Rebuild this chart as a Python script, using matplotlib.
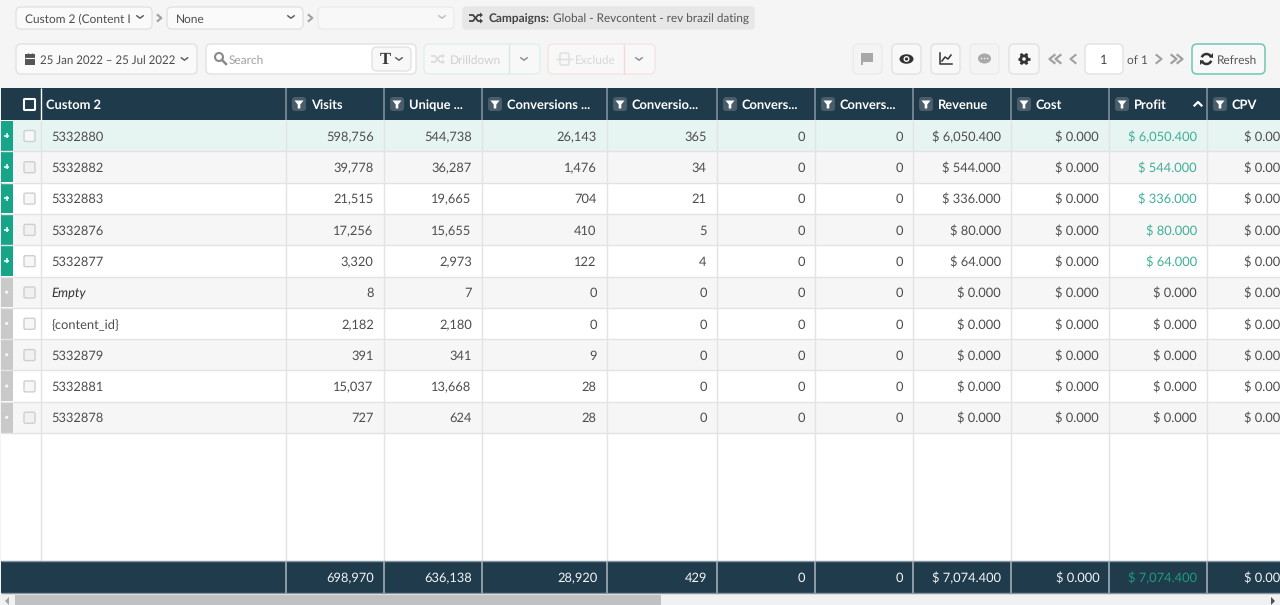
import math
import matplotlib
matplotlib.use("Agg")
import matplotlib.pyplot as plt
from matplotlib.patches import FancyBboxPatch, Rectangle, Polygon, Circle, Ellipse, Arc

plt.rcParams['font.family'] = ['Lato', 'Open Sans', 'DejaVu Sans']
plt.rcParams['text.hinting'] = 'no_hinting'

# ---- data ----
headers = ["Custom 2", "Visits", "Unique ...", "Conversions ...", "Conversio...", "Convers...",
           "Convers...", "Revenue", "Cost", "Profit", "CPV"]
names = ["5332880", "5332882", "5332883", "5332876", "5332877", "Empty", "{content_id}",
         "5332879", "5332881", "5332878"]
visits = ["598,756", "39,778", "21,515", "17,256", "3,320", "8", "2,182", "391", "15,037", "727"]
unique = ["544,738", "36,287", "19,665", "15,655", "2,973", "7", "2,180", "341", "13,668", "624"]
conv_a = ["26,143", "1,476", "704", "410", "122", "0", "0", "9", "28", "28"]
conv_b = ["365", "34", "21", "5", "4", "0", "0", "0", "0", "0"]
conv_c = ["0"] * 10
conv_d = ["0"] * 10
revenue = ["$ 6,050.400", "$ 544.000", "$ 336.000", "$ 80.000", "$ 64.000",
           "$ 0.000", "$ 0.000", "$ 0.000", "$ 0.000", "$ 0.000"]
cost = ["$ 0.000"] * 10
profit = list(revenue)
cpv = ["$ 0.000"] * 10
totals = ["698,970", "636,138", "28,920", "429", "0", "0", "$ 7,074.400", "$ 0.000", "$ 7,074.400", "$ 0.000"]
expandable = [True] * 5 + [False] * 5
value_columns = [visits, unique, conv_a, conv_b, conv_c, conv_d, revenue, cost, profit, cpv]

# ---- layout ----
col_edges = [41, 286, 384, 482, 607, 717, 815, 913, 1011, 1109, 1207, 1297.5]
row_top, row_h = 120, 31.3
foot_top, foot_bot = 561, 593
HEAD, FOOT = "#1e3a4b", "#203b4b"
TXT, GREEN_T, GREEN = "#4d4d4d", "#3fb097", "#17a589"
FS = 9.25
TS = 8.6

fig = plt.figure(figsize=(12.8, 6.05), dpi=100, facecolor="#f5f5f5")
ax = fig.add_axes([0, 0, 1, 1])
ax.set_xlim(0, 1280)
ax.set_ylim(605, 0)
ax.axis("off")


def rect(x0, y0, x1, y1, fc, z=1):
    ax.add_patch(Rectangle((x0, y0), x1 - x0, y1 - y0, fc=fc, ec="none", zorder=z))


def vline(x, y0, y1, c, lw=1.0, z=3):
    ax.plot([x, x], [y0, y1], color=c, lw=lw, zorder=z, solid_capstyle="butt")


def hline(x0, x1, y, c, lw=1.0, z=3):
    ax.plot([x0, x1], [y, y], color=c, lw=lw, zorder=z, solid_capstyle="butt")


def box(x0, y0, x1, y1, fc="#f8f8f8", ec="#e2e2e2", r=5, lw=1.0, z=4):
    ax.add_patch(FancyBboxPatch((x0, y0), x1 - x0, y1 - y0, boxstyle=f"round,pad=0,rounding_size={r}",
                                fc=fc, ec=ec, lw=lw, zorder=z))


def txt(x, y, s, c=TXT, ha="left", fs=FS, z=6, **kw):
    # y is the visual middle of the digits; a whole-pixel baseline keeps a row's texts level
    ax.text(x, round(y + 0.55 * fs), s, color=c, ha=ha, va="baseline", fontsize=fs, zorder=z, clip_on=True, **kw)


def chev_down(x, y, c="#555555", w=3.2, h=2.4, lw=1.0):
    ax.plot([x - w, x, x + w], [y - h / 2, y + h / 2, y - h / 2], color=c, lw=lw, zorder=7)


def chev_side(x, y, d=1, c="#a0a0a0", w=2.5, h=4, lw=1.5):
    ax.plot([x - d * w, x + d * w, x - d * w], [y - h, y, y + h], color=c, lw=lw, zorder=7)


def shuffle(x, y, c):
    ax.plot([x - 6, x - 3, x + 2, x + 5], [y - 3, y - 3, y + 3, y + 3], color=c, lw=1.3, zorder=7)
    ax.plot([x - 6, x - 3, x + 2, x + 5], [y + 3, y + 3, y - 3, y - 3], color=c, lw=1.3, zorder=7)
    for yy in (y - 3, y + 3):
        ax.add_patch(Polygon([[x + 4, yy - 2.5], [x + 7, yy], [x + 4, yy + 2.5]], fc=c, ec="none", zorder=7))


# ---- top toolbar ----
box(16, 7, 152, 29, "#fafafa")
txt(25, 18, "Custom 2 (Content I", fs=TS)
chev_down(140, 17)
chev_side(159.5, 18, w=1.8, h=3)
box(167, 7, 303, 29, "#fafafa")
txt(176, 18, "None", fs=TS)
chev_down(291, 17)
chev_side(310.5, 18, w=1.8, h=3)
box(318, 7, 454, 29, "#f8f8f8", "#ececec")
chev_down(442, 17, c="#bbbbbb")
box(463, 7, 754, 29, "#e7e7e7", "#e7e7e7", r=3)
shuffle(476, 18, "#444444")
txt(489, 18, "Campaigns:", c="#444444", fs=TS, weight="bold")
txt(553, 18, "Global - Revcontent - rev brazil dating", c="#555555", fs=8.45)

box(16, 44, 197, 74, "#fafafa")
rect(25, 54, 35, 65, "#555555", 7)
hline(25, 35, 57.5, "#fafafa", 0.8, 8)
for xx in (28, 32):
    vline(xx, 52.5, 55, "#555555", 1.0, 8)
txt(40, 59, "25 Jan 2022 – 25 Jul 2022", fs=8.3)
chev_down(184.5, 59)
box(206, 44, 416, 74, "#ffffff")
ax.add_patch(Circle((219, 57), 4, fc="none", ec="#8a8a8a", lw=1.5, zorder=7))
ax.plot([222, 226], [60, 64], color="#8a8a8a", lw=1.8, zorder=7)
txt(229, 59, "Search", c="#a0a0a0", fs=TS)
box(372, 47, 411, 71, "#f8f8f8")
ax.text(385, 64, "T", color="#333333", fontsize=12, family="Liberation Serif", weight="bold",
        ha="center", va="baseline", zorder=7)
chev_down(399, 59)

box(424, 44, 540, 74, "#f8f8f8", "#dff0eb")
vline(508.5, 44, 74, "#d3ebe4", z=5)
shuffle(438, 59, "#dcdcdc")
txt(450, 59, "Drilldown", c="#d0d0d0", fs=TS)
chev_down(524, 59, c="#888888")
box(548, 44, 655, 74, "#f8f8f8", "#f5e3e3")
vline(623.5, 44, 74, "#f3d9d9", z=5)
box(560, 53, 569, 65, "none", "#dedede", r=1.5, lw=1.0, z=7)
hline(556, 573, 59, "#dedede", 1.0, 8)
txt(575, 59, "Exclude", c="#d8d8d8", fs=TS)
chev_down(639, 59, c="#888888")

# icon buttons
box(853, 44, 882, 74, "#f4f4f4", "#ebebeb")
ax.add_patch(Polygon([[861, 53], [873, 53], [873, 62], [863, 62], [863, 65], [861, 65]], fc="#a8a8a8", ec="none", zorder=7))
box(892, 44, 921, 74, "#f8f8f8")
ax.add_patch(Ellipse((906.5, 59), 14, 9.5, fc="#333333", ec="none", zorder=7))
ax.add_patch(Circle((906.5, 59), 3, fc="#f8f8f8", ec="none", zorder=8))
ax.add_patch(Circle((906.5, 59), 1.6, fc="#333333", ec="none", zorder=9))
box(931, 44, 960, 74, "#f8f8f8")
ax.plot([940, 940, 952], [53, 64, 64], color="#333333", lw=1.1, zorder=7)
ax.plot([942, 945, 948, 951], [61, 57, 59, 55], color="#333333", lw=1.1, zorder=7)
box(970, 44, 999, 74, "#f4f4f4", "#ebebeb")
ax.add_patch(Ellipse((984.5, 58.5), 13, 10, fc="#a8a8a8", ec="none", zorder=7))
for dx in (-3, 0, 3):
    ax.add_patch(Circle((984.5 + dx, 58.5), 0.8, fc="#f4f4f4", ec="none", zorder=8))
box(1009, 44, 1039, 74, "#f8f8f8")
ax.add_patch(Circle((1024, 59), 4.6, fc="#333333", ec="none", zorder=7))
for a in (0, 60, 120):
    dx, dy = 6.2 * math.cos(math.radians(a)), 6.2 * math.sin(math.radians(a))
    ax.plot([1024 - dx, 1024 + dx], [59 - dy, 59 + dy], color="#333333", lw=2.0, zorder=7, solid_capstyle="butt")
ax.add_patch(Circle((1024, 59), 1.8, fc="#f8f8f8", ec="none", zorder=8))
for xx in (1052, 1058):
    chev_side(xx, 59, d=-1, lw=1.6)
chev_side(1073, 59, d=-1)
box(1085, 44, 1123, 74, "#ffffff")
txt(1104, 59, "1", ha="center", c="#444444")
txt(1127, 59, "of 1", c="#555555", fs=TS)
chev_side(1159, 59)
for xx in (1174, 1180):
    chev_side(xx, 59, lw=1.6)
box(1192, 44, 1265, 74, "#f8f8f8", "#6fc7b3", lw=1.1)
ax.add_patch(Arc((1206.5, 59), 10, 10, theta1=200, theta2=340, color="#333333", lw=1.8, zorder=7))
ax.add_patch(Arc((1206.5, 59), 10, 10, theta1=20, theta2=160, color="#333333", lw=1.8, zorder=7))
ax.add_patch(Polygon([[1209, 57], [1213, 53], [1213, 58]], fc="#333333", ec="none", zorder=7))
ax.add_patch(Polygon([[1204, 61], [1200, 65], [1200, 60]], fc="#333333", ec="none", zorder=7))
txt(1217, 59, "Refresh", c="#555555", fs=TS)

# ---- table body ----
rect(1, 88, 1280, foot_bot, "#ffffff", 1)
for i in range(len(names)):
    top = row_top + i * row_h
    bg = "#e6f5f1" if i == 0 else ("#f6f6f6" if i % 2 == 1 else "#ffffff")
    rect(13, top, 1280, top + row_h, bg, 1.5)
    rect(1, top + 0.5, 12.5, top + row_h - 0.5, GREEN if expandable[i] else "#c9c9c9", 2)
    if expandable[i]:
        hline(4.2, 9.2, top + row_h / 2, "#ffffff", 1.1, 5)
        vline(6.7, top + row_h / 2 - 2.5, top + row_h / 2 + 2.5, "#ffffff", 1.1, 5)
    else:
        ax.add_patch(Circle((6.7, top + row_h / 2), 1.6, fc="#f5f5f5", ec="none", zorder=5))
    hline(1, 1280, top + row_h, "#e3e3e3", 1.0)
    box(24, top + 10.5, 35, top + 21.5, "#f7f7f7" if i % 2 == 0 else "#f1f1f1", "#cfcfcf", r=1.5, lw=1.0)
    txt(51.7, top + row_h / 2, names[i], style="italic" if names[i] == "Empty" else "normal",
        c="#333333" if names[i] == "Empty" else TXT)
    for j, values in enumerate(value_columns):
        c = GREEN_T if values is profit and expandable[i] else TXT
        txt(col_edges[j + 2] - 10.3, top + row_h / 2, values[i], c=c, ha="right")

for x in col_edges[:-1]:
    vline(x, row_top, foot_top, "#e3e3e3", 1.0, 3)

# ---- header ----
rect(1, 88, 1280, 119.5, HEAD, 4)
vline(41, 88, 119.5, "#ffffff", 1.0, 5)
for x in col_edges[1:-1]:
    vline(x, 88, 119.5, "#7f8f9a", 1.2, 5)
box(24, 99, 35, 110, "none", "#ffffff", r=0.8, lw=1.5, z=6)
txt(46, 104, headers[0], c="#ffffff", weight="bold", fs=9.3)
for j, label in enumerate(headers[1:]):
    left = col_edges[j + 1]
    box(left + 6, 97, left + 20, 111, "#4a5d6b", "none", r=3, z=5)
    ax.add_patch(Polygon([[left + 8.5, 100.5], [left + 17.5, 100.5], [left + 14.3, 104.5], [left + 14.3, 108.5],
                          [left + 11.7, 108.5], [left + 11.7, 104.5]], fc="#ffffff", ec="none", zorder=6))
    txt(left + 25, 103.5, label, c="#ffffff", weight="bold", fs=9.3)
ax.plot([1194.5, 1198, 1201.5], [105.5, 102, 105.5], color="#ffffff", lw=1.6, zorder=7)

# ---- footer ----
rect(1, foot_top, 1280, foot_bot, FOOT, 4)
hline(1, 1280, foot_top, "#8494a0", 1.0, 5)
hline(1, 1280, foot_bot, "#8494a0", 1.0, 5)
for x in col_edges[1:-1]:
    vline(x, foot_top, foot_bot, "#a0adb6", 1.2, 5)
for j, value in enumerate(totals):
    c = "#1f9a7f" if j == 8 else "#f2f5f6"
    txt(col_edges[j + 2] - 9.8, 577, value, c=c, ha="right")

# ---- scrollbar ----
rect(0, 594, 1280, 605, "#f1f1f1", 4)
rect(15, 595, 661, 605, "#c1c1c1", 5)
ax.add_patch(Polygon([[9, 597], [5, 601], [9, 605]], fc="#a3a3a3", ec="none", zorder=6))
ax.add_patch(Polygon([[1271, 597], [1275, 601], [1271, 605]], fc="#505050", ec="none", zorder=6))

fig.savefig("out.png", dpi=100, facecolor=fig.get_facecolor())
